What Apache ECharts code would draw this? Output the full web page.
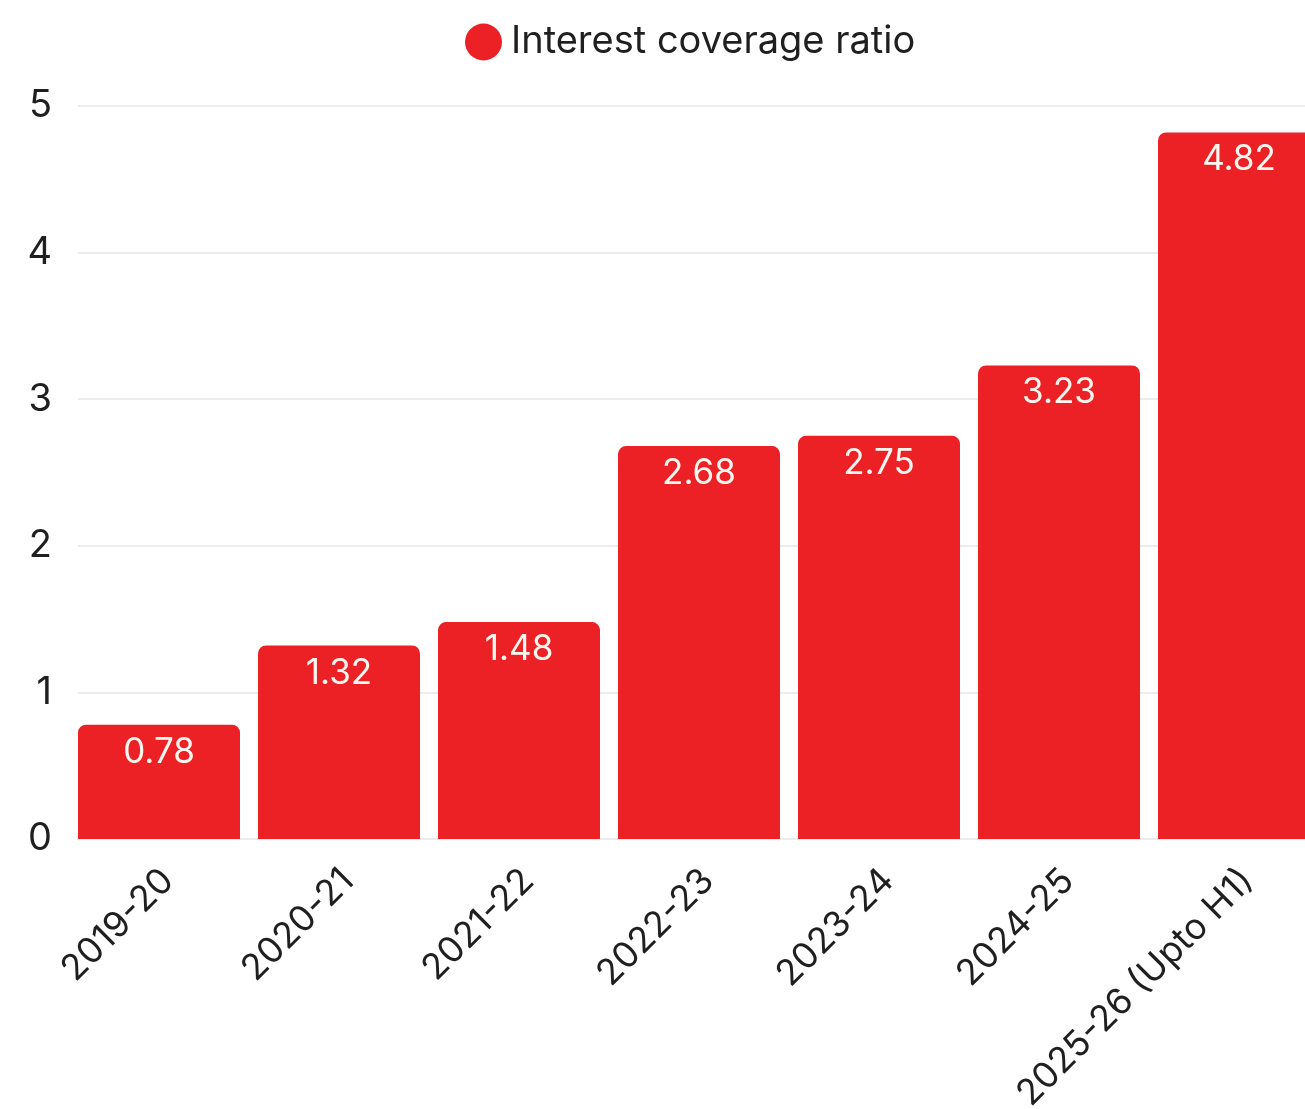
<!DOCTYPE html>
<html>
<head>
<meta charset="utf-8">
<script src="https://cdn.jsdelivr.net/npm/echarts@6/dist/echarts.min.js"></script>
<style>
  html, body { margin: 0; padding: 0; background: #ffffff; }
  #chart { width: 1305px; height: 1109px; }
</style>
</head>
<body>
<div id="chart"></div>
<script>
// Fiscal years on the category axis
const years = ['2019-20', '2020-21', '2021-22', '2022-23', '2023-24', '2024-25', '2025-26 (Upto H1)'];
// Interest coverage ratio per year
const coverage = [0.78, 1.32, 1.48, 2.68, 2.75, 3.23, 4.82];
// Empty companion series: keeps each bar flush with the left of its band
const spacer = [null, null, null, null, null, null, null];
// Value axis ticks
const yTicks = [0, 1, 2, 3, 4, 5];

const FONT = 'Inter, "Noto Sans", sans-serif';
const RED = '#EB2126';

const chart = echarts.init(document.getElementById('chart'), null, { renderer: 'canvas' });

chart.setOption({
  animation: false,
  backgroundColor: '#ffffff',
  legend: {
    data: ['Interest coverage ratio'],
    top: 18,
    left: 460,
    icon: 'circle',
    itemWidth: 37,
    itemHeight: 37,
    itemGap: 20,
    textStyle: { fontFamily: FONT, fontSize: 38, color: '#1f1f1f', padding: [0, 0, 0, 4] }
  },
  grid: { left: 78, top: 106, width: 1260, bottom: 270, containLabel: false, outerBoundsMode: 'none' },
  xAxis: {
    type: 'category',
    data: years,
    axisLine: { show: false },
    axisTick: { show: false },
    axisLabel: {
      rotate: 45,
      interval: 0,
      margin: 36,
      fontFamily: FONT,
      fontSize: 36,
      color: '#1f1f1f'
    }
  },
  yAxis: {
    type: 'value',
    min: yTicks[0],
    max: yTicks[yTicks.length - 1],
    interval: 1,
    axisLine: { show: false },
    axisTick: { show: false },
    splitLine: { lineStyle: { color: '#e6e6e6', width: 1.5 } },
    axisLabel: {
      margin: 26,
      fontFamily: FONT,
      fontSize: 38,
      color: '#1f1f1f'
    }
  },
  series: [
    {
      name: 'Interest coverage ratio',
      type: 'bar',
      data: coverage,
      barWidth: 162,
      barGap: '0%',
      itemStyle: { color: RED, borderRadius: [8, 8, 0, 0] },
      label: {
        show: true,
        position: 'insideTop',
        distance: 10,
        fontFamily: FONT,
        fontSize: 35,
        color: '#fff6ef',
        formatter: (p) => p.value.toFixed(2)
      }
    },
    {
      name: 'spacer',
      type: 'bar',
      data: spacer,
      barWidth: 18,
      barGap: '0%',
      silent: true,
      itemStyle: { color: 'transparent' }
    }
  ]
});
</script>
</body>
</html>
